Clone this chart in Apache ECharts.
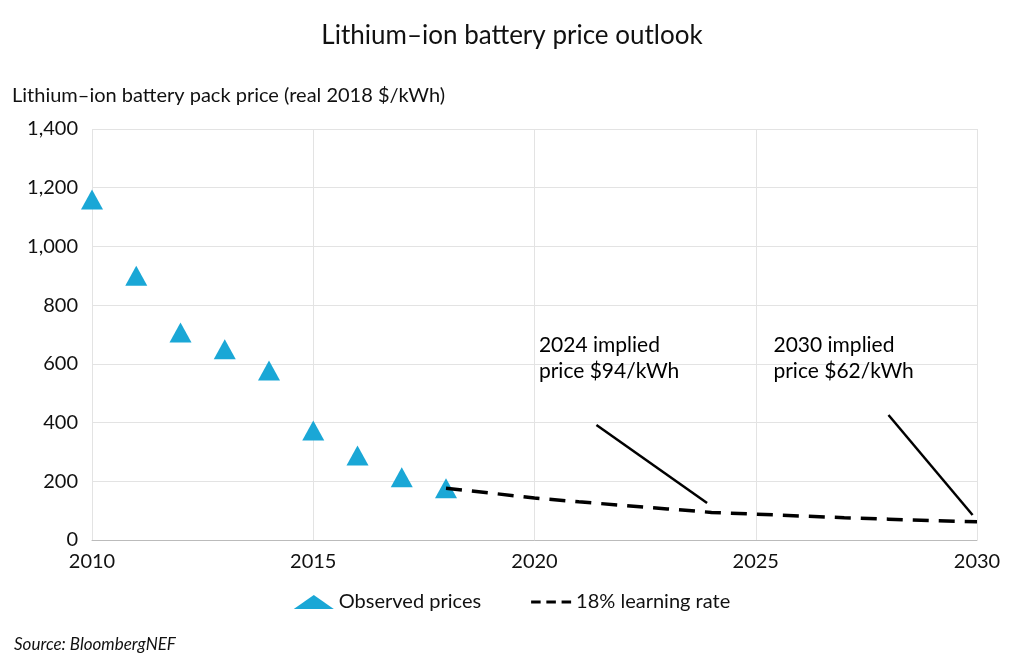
<!DOCTYPE html>
<html><head><meta charset="utf-8">
<script src="https://cdn.jsdelivr.net/npm/echarts@6/dist/echarts.min.js"></script>
<style>html,body{margin:0;background:#fff}#c{width:1024px;height:667px}</style>
</head><body><div id="c"></div>
<script>
const obsYears=[2010,2011,2012,2013,2014,2015,2016,2017,2018];
const obsPrices=[1160,900,707,650,577,373,288,214,176];
const fcYears=[2018,2019,2020,2021,2022,2023,2024,2025,2026,2027,2028,2029,2030];
const fcPrices=[176,160,143,130,118,106,94,88,82,76,71,66,62];
const notes=[{text:'2024 implied\nprice $94/kWh',x:2020.1,y:618,from:[2021.4,392],to:[2023.9,126]},
             {text:'2030 implied\nprice $62/kWh',x:2025.4,y:618,from:[2028.0,426],to:[2029.9,85]}];
const F='Lato, "Open Sans", sans-serif';
const ch=echarts.init(document.getElementById('c'));
ch.setOption({
 animation:false,
 title:{text:'Lithium–ion battery price outlook',left:'center',top:18,textStyle:{fontFamily:F,fontSize:26,fontWeight:'normal',color:'#111'}},
 graphic:[{type:'text',left:12,top:86,style:{text:'Lithium–ion battery pack price (real 2018 $/kWh)',font:'20px '+F,fill:'#111'}},
          {type:'text',left:14,top:636,style:{text:'Source: BloombergNEF',font:'italic 17px '+F,fill:'#111'}}],
 legend:{bottom:50,left:'center',itemGap:50,itemWidth:40,textStyle:{fontFamily:F,fontSize:20,color:'#111'},
   data:[{name:'Observed prices',icon:'triangle',itemWidth:16,itemHeight:15},
         {name:'18% learning rate',icon:'path://M0,0H10V3H0ZM16,0H26V3H16ZM32,0H42V3H32Z',itemWidth:42,itemHeight:3}]},
 grid:{left:92,right:47,top:129,bottom:127},
 xAxis:{type:'value',min:2010,max:2030,interval:5,axisLine:{lineStyle:{color:'#bbb'}},axisTick:{show:false},
   splitLine:{lineStyle:{color:'#e3e3e3'}},axisLabel:{fontFamily:F,fontSize:20,color:'#111',margin:12,formatter:v=>String(v)}},
 yAxis:{type:'value',min:0,max:1400,interval:200,axisLine:{show:false},axisTick:{show:false},
   splitLine:{lineStyle:{color:'#e3e3e3'}},axisLabel:{fontFamily:F,fontSize:20,color:'#111',margin:14,formatter:v=>v.toLocaleString('en-US')}},
 series:[
  {name:'18% learning rate',type:'line',data:fcYears.map((y,i)=>[y,fcPrices[i]]),symbol:'none',
   lineStyle:{color:'#000',width:3.5,type:[16,10]},itemStyle:{color:'#000'}},
  {name:'Observed prices',type:'scatter',data:obsYears.map((y,i)=>[y,obsPrices[i]]),symbol:'triangle',symbolSize:[22,20],
   itemStyle:{color:'#1aa7d6',opacity:1}},
  {name:'leaders',type:'lines',coordinateSystem:'cartesian2d',silent:true,
   data:notes.map(n=>({coords:[n.from,n.to]})),lineStyle:{color:'#000',width:2.5,opacity:1}},
  {name:'notes',type:'scatter',symbolSize:0,silent:true,itemStyle:{opacity:1},data:notes.map(n=>({value:[n.x,n.y],label:{formatter:n.text}})),
   label:{show:true,position:'right',distance:0,fontFamily:F,fontSize:21,color:'#000',lineHeight:26,align:'left'}}
 ]
});
</script></body></html>
